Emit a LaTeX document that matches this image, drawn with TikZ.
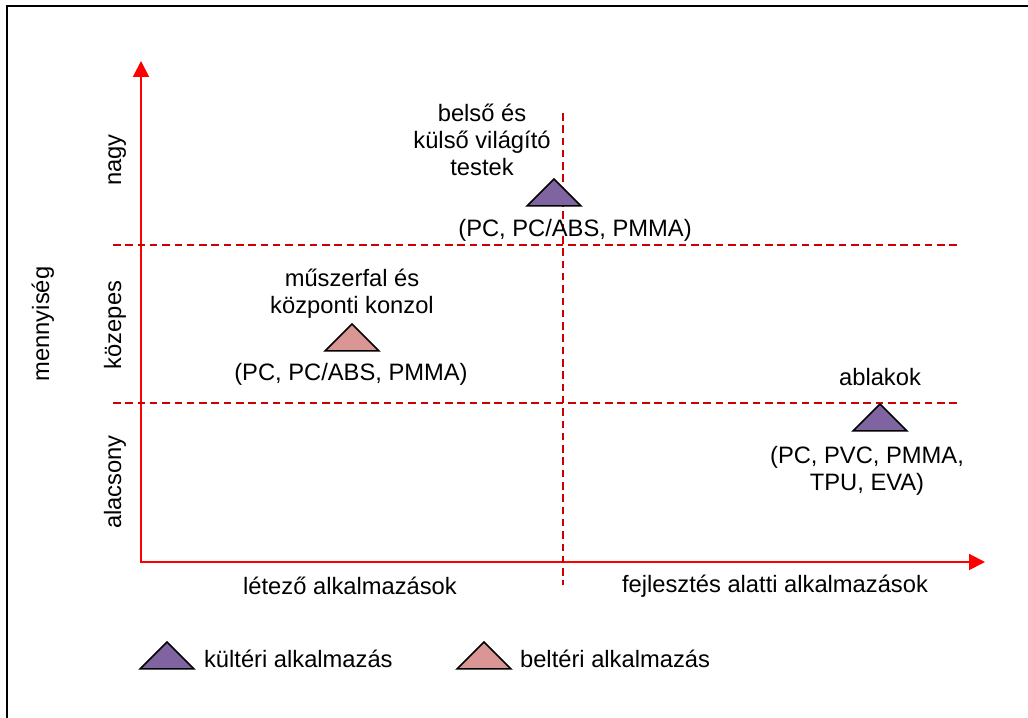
\documentclass[tikz,border=0pt]{standalone}
\usepackage{fontspec}
\setmainfont{Liberation Sans}
\usetikzlibrary{arrows.meta}
\definecolor{kulteri}{RGB}{128,100,162}
\definecolor{belteri}{RGB}{217,150,148}
\definecolor{racs}{RGB}{204,0,0}

\begin{document}
\begin{tikzpicture}[line join=miter,>={Triangle[length=9pt,width=9pt]},
  every node/.style={inner sep=1pt,font=\fontsize{13.5pt}{15.5pt}\selectfont},
  axis/.style={<->,draw=red,line width=1.1pt},
  grid/.style={draw=racs,line width=0.85pt,dash pattern=on 4.3pt off 2.7pt},
  marker/.style={draw=black,line width=0.85pt}]
  \useasboundingbox (0,0) rectangle (20.56,14.36);
  \draw[line width=1.4pt] (0.14,-0.3) -- (0.14,14.24) -- (20.9,14.24);
  % axes
  \coordinate (o) at (2.82,3.12);
  \coordinate (ytip) at (2.82,13.14);
  \coordinate (xtip) at (19.70,3.12);
  \draw[axis] (ytip) -- (o) -- (xtip);
  % dashed quadrants
  \draw[grid] (11.26,12.1) -- (11.26,2.66);
  \draw[grid] (2.26,9.46) -- (19.2,9.46);
  \draw[grid] (2.26,6.30) -- (19.2,6.30);
  \foreach \x/\y/\c in {11.08/10.78/kulteri,7.04/7.88/belteri,17.6/6.28/kulteri,3.34/1.52/kulteri,9.68/1.52/belteri} {
    \draw[marker,fill=\c] (\x,\y) -- ++(-0.54,-0.54) -- ++(1.08,0) -- cycle;
  }
  \node[align=center] (lampak) at (9.64,11.56) {belső és\\külső világító\\testek};
  \node (lampakanyag) at (11.5,9.76) {(PC, PC/ABS, PMMA)};
  \node[align=center] (muszerfal) at (7.04,8.49) {műszerfal és\\központi konzol};
  \node (muszerfalanyag) at (7.02,6.88) {(PC, PC/ABS, PMMA)};
  \node (ablakok) at (17.6,6.82) {ablakok};
  \node[align=center] (ablakanyag) at (17.34,4.94) {(PC, PVC, PMMA,\\TPU, EVA)};
  \node (letezo) at (7.0,2.64) {létező alkalmazások};
  \node (fejlesztes) at (15.5,2.64) {fejlesztés alatti alkalmazások};
  \node[anchor=base west] (kulteri) at (4.04,1.0) {kültéri alkalmazás};
  \node[anchor=base west] (belteri) at (10.36,1.0) {beltéri alkalmazás};
  \node[rotate=90,anchor=base] (nagy) at (2.42,11.16) {nagy};
  \node[rotate=90,anchor=base] (kozepes) at (2.42,7.86) {közepes};
  \node[rotate=90,anchor=base] (alacsony) at (2.42,4.72) {alacsony};
  \node[rotate=90,anchor=base] (mennyiseg) at (0.98,7.88) {mennyiség};
\end{tikzpicture}
\end{document}
